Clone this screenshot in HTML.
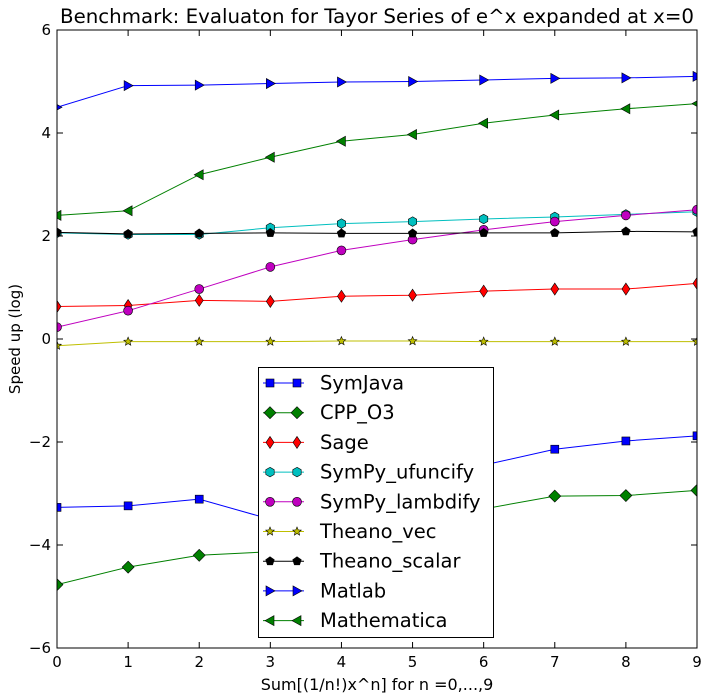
<!DOCTYPE html>
<html><head><meta charset="utf-8"><style>
html,body{margin:0;padding:0;background:#fff}
svg{display:block;font-family:"DejaVu Sans","Liberation Sans",sans-serif}
</style></head><body>
<svg id="chart" width="717" height="697" xmlns="http://www.w3.org/2000/svg"></svg>
<script>
const xValues=[0,1,2,3,4,5,6,7,8,9];
const seriesNames=["SymJava","CPP_O3","Sage","SymPy_ufuncify","SymPy_lambdify","Theano_vec","Theano_scalar","Matlab","Mathematica"];
const symJava=[-3.27,-3.24,-3.11,-3.5,-3.1,-2.75,-2.45,-2.14,-1.98,-1.88];
const cppO3=[-4.77,-4.43,-4.2,-4.13,-3.9,-3.6,-3.3,-3.05,-3.04,-2.94];
const sage=[0.63,0.65,0.75,0.73,0.83,0.85,0.93,0.97,0.97,1.08];
const sympyUfuncify=[2.06,2.03,2.03,2.16,2.24,2.28,2.33,2.37,2.42,2.47];
const sympyLambdify=[0.23,0.55,0.97,1.4,1.72,1.93,2.12,2.28,2.4,2.51];
const theanoVec=[-0.13,-0.05,-0.05,-0.05,-0.04,-0.04,-0.05,-0.05,-0.05,-0.05];
const theanoScalar=[2.07,2.04,2.05,2.06,2.05,2.05,2.06,2.06,2.09,2.08];
const matlab=[4.5,4.92,4.93,4.96,4.99,5.0,5.03,5.06,5.07,5.1];
const mathematica=[2.4,2.49,3.19,3.53,3.84,3.97,4.19,4.35,4.47,4.57];
const xTicks=[0,1,2,3,4,5,6,7,8,9];
const yTicks=[-6,-4,-2,0,2,4,6];

const svg=document.getElementById('chart');
const NS="http://www.w3.org/2000/svg";
const L=57,R=697,T=30,B=648;
const xs=v=>L+(v-0)/9*(R-L);
const ys=v=>B-(v+6)/12*(B-T);
function mk(tag,attrs,parent){const e=document.createElementNS(NS,tag);for(const k in attrs)e.setAttribute(k,attrs[k]);(parent||svg).appendChild(e);return e;}

const series=[
 {d:symJava,c:"#0000ff",m:"square"},
 {d:cppO3,c:"#008000",m:"diamond"},
 {d:sage,c:"#ff0000",m:"thindiamond"},
 {d:sympyUfuncify,c:"#00bfbf",m:"hexagon"},
 {d:sympyLambdify,c:"#bf00bf",m:"circle"},
 {d:theanoVec,c:"#bfbf00",m:"star"},
 {d:theanoScalar,c:"#000000",m:"pentagon"},
 {d:matlab,c:"#0000ff",m:"right"},
 {d:mathematica,c:"#008000",m:"left"}
];
function poly(n,r,rot,cx,cy){let p=[];for(let i=0;i<n;i++){const a=rot+i*2*Math.PI/n;p.push((cx+r*Math.cos(a)).toFixed(1)+","+(cy+r*Math.sin(a)).toFixed(1));}return p.join(" ");}
function marker(g,type,cx,cy,c){
 const a={fill:c,stroke:"#000","stroke-width":0.6};
 let e;
 if(type==="square")e=mk('rect',Object.assign({x:cx-4,y:cy-4,width:8,height:8},a),g);
 else if(type==="circle")e=mk('circle',Object.assign({cx:cx,cy:cy,r:4.5},a),g);
 else if(type==="diamond")e=mk('polygon',Object.assign({points:`${cx},${cy-6} ${cx+6},${cy} ${cx},${cy+6} ${cx-6},${cy}`},a),g);
 else if(type==="thindiamond")e=mk('polygon',Object.assign({points:`${cx},${cy-6} ${cx+4},${cy} ${cx},${cy+6} ${cx-4},${cy}`},a),g);
 else if(type==="hexagon")e=mk('polygon',Object.assign({points:poly(6,4.8,-Math.PI/2,cx,cy)},a),g);
 else if(type==="pentagon")e=mk('polygon',Object.assign({points:poly(5,4.5,-Math.PI/2,cx,cy)},a),g);
 else if(type==="star"){let p=[];for(let i=0;i<10;i++){const r=i%2?2:4.5;const an=-Math.PI/2+i*Math.PI/5;p.push((cx+r*Math.cos(an)).toFixed(1)+","+(cy+r*Math.sin(an)).toFixed(1));}e=mk('polygon',Object.assign({points:p.join(" ")},a),g);}
 else if(type==="right")e=mk('polygon',Object.assign({points:`${cx+5},${cy} ${cx-4},${cy-5} ${cx-4},${cy+5}`},a),g);
 else if(type==="left")e=mk('polygon',Object.assign({points:`${cx-5},${cy} ${cx+4},${cy-5} ${cx+4},${cy+5}`},a),g);
 return e;
}
const clip=mk('clipPath',{id:'pc'});mk('rect',{x:L,y:T,width:R-L,height:B-T},clip);
const plot=mk('g',{'clip-path':'url(#pc)'});


series.forEach((s,i)=>{
 const g=mk('g',{},plot);
 
 
 mk('polyline',{points:s.d.map((v,j)=>xs(xValues[j])+","+ys(v)).join(" "),fill:"none",stroke:s.c,"stroke-width":1},g);
 s.d.forEach((v,j)=>{const m=marker(g,s.m,xs(xValues[j]),ys(v),s.c);
  
  });
});
const frame=mk('rect',{x:L,y:T,width:R-L,height:B-T,fill:"none",stroke:"#000","stroke-width":1});


xTicks.forEach(t=>{const x=xs(t);
 mk('line',{x1:x,x2:x,y1:B,y2:B-6,stroke:"#000"});mk('line',{x1:x,x2:x,y1:T,y2:T+6,stroke:"#000"});
 const tx=mk('text',{x:x,y:B+19,"text-anchor":"middle","font-size":15});tx.textContent=t;
 
 });
yTicks.forEach(t=>{const y=ys(t);
 mk('line',{x1:L,x2:L+6,y1:y,y2:y,stroke:"#000"});mk('line',{x1:R,x2:R-6,y1:y,y2:y,stroke:"#000"});
 const tx=mk('text',{x:L-6,y:y+5,"text-anchor":"end","font-size":15});tx.textContent=(t<0?"\u2212"+(-t):t);
 
 });
const title=mk('text',{x:377,y:23,"text-anchor":"middle","font-size":19.8});title.textContent="Benchmark: Evaluaton for Tayor Series of e^x expanded at x=0";


const xl=mk('text',{x:377,y:690,"text-anchor":"middle","font-size":16});xl.textContent="Sum[(1/n!)x^n] for n =0,...,9";


const yl=mk('text',{x:20,y:339,"text-anchor":"middle","font-size":15,transform:"rotate(-90 20 339)"});yl.textContent="Speed up (log)";


const lg=mk('g',{});


mk('rect',{x:258.5,y:367.5,width:235,height:270,fill:"#fff",stroke:"#000","stroke-width":1},lg);
series.forEach((s,i)=>{const y=383+i*29.7;
 const eg=mk('g',{},lg);
 
 
 mk('line',{x1:263,x2:304,y1:y,y2:y,stroke:s.c,"stroke-width":1},eg);
 marker(eg,s.m,270,y,s.c);marker(eg,s.m,297,y,s.c);
 const t=mk('text',{x:320,y:y+6.5,"font-size":19.5},eg);t.textContent=seriesNames[i];});
</script>
</body></html>
